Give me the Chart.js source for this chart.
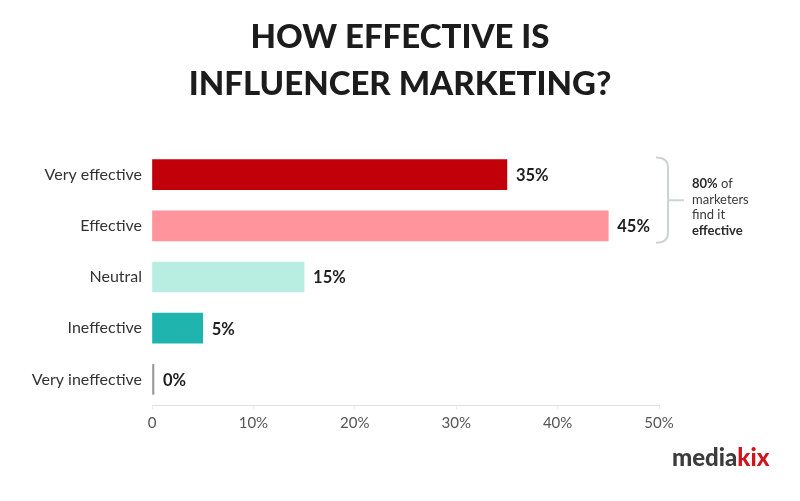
<!DOCTYPE html>
<html>
<head>
<meta charset="utf-8">
<script src="https://cdn.jsdelivr.net/npm/chart.js@4"></script>
<style>
  html, body { margin: 0; padding: 0; background: #ffffff; }
  #wrap { width: 800px; height: 501px; position: relative; }
</style>
</head>
<body>
<div id="wrap"><canvas id="c" width="800" height="501"></canvas></div>
<script>
const categories = ["Very effective", "Effective", "Neutral", "Ineffective", "Very ineffective"];
const values = [35, 45, 15, 5, 0];
const barColors = ["#C10009", "#FF949C", "#B8EEE1", "#20B4AF", "#9a9a9a"];
const tickValues = [0, 10, 20, 30, 40, 50];
const titleLines = ["HOW EFFECTIVE IS", "INFLUENCER MARKETING?"];
const noteLines = [["80%", " of"], ["", "marketers"], ["", "find it"], ["effective", ""]];

const overlay = {
  id: 'overlay',
  afterDatasetsDraw(chart) {
    const ctx = chart.ctx;
    const meta = chart.getDatasetMeta(0);
    ctx.save();
    // value labels
    ctx.font = "bold 16.5px Lato";
    ctx.fillStyle = "#1e1e1e";
    ctx.textBaseline = "middle";
    ctx.textAlign = "left";
    meta.data.forEach((bar, i) => {
      ctx.fillText(values[i] + "%", bar.x + 9, bar.y + 1);
    });
    // title
    ctx.font = "900 33px Lato";
    ctx.fillStyle = "#1c1c1c";
    ctx.textAlign = "center";
    ctx.textBaseline = "alphabetic";
    ctx.fillText(titleLines[0], 400, 48);
    ctx.fillText(titleLines[1], 400, 95);
    // bracket spanning first two bars
    const y1 = meta.data[0].y - 17, y2 = meta.data[1].y + 17;
    const ym = (y1 + y2) / 2;
    const bx = 668;
    ctx.strokeStyle = "#cdd3d3";
    ctx.lineWidth = 2;
    ctx.beginPath();
    ctx.moveTo(656, y1);
    ctx.quadraticCurveTo(bx, y1, bx, y1 + 10);
    ctx.lineTo(bx, y2 - 10);
    ctx.quadraticCurveTo(bx, y2, 656, y2);
    ctx.moveTo(bx, ym);
    ctx.lineTo(684, ym);
    ctx.stroke();
    // note text
    ctx.textAlign = "left";
    ctx.fillStyle = "#2a2a2a";
    noteLines.forEach((ln, i) => {
      const y = 188 + i * 15.5;
      let x = 692;
      if (ln[0]) {
        ctx.font = "bold 13px Lato";
        ctx.fillText(ln[0], x, y);
        x += ctx.measureText(ln[0]).width;
      }
      if (ln[1]) {
        ctx.font = "13px Lato";
        ctx.fillStyle = "#3a3a3a";
        ctx.fillText(ln[1], x, y);
        ctx.fillStyle = "#2a2a2a";
      }
    });
    // logo
    ctx.font = "900 24px Lato";
    ctx.fillStyle = "#3c3c3c";
    ctx.fillText("media", 672, 466);
    const w = ctx.measureText("media").width;
    ctx.fillStyle = "#D0141C";
    ctx.fillText("kix", 672 + w, 466);
    ctx.restore();
  }
};

new Chart(document.getElementById('c'), {
  type: 'bar',
  data: {
    labels: categories,
    datasets: [{
      data: values,
      backgroundColor: barColors,
      borderWidth: 0,
      barThickness: 30,
      minBarLength: 2
    }]
  },
  options: {
    indexAxis: 'y',
    responsive: false,
    animation: false,
    layout: { padding: { top: 149, right: 141, bottom: 56, left: 0 } },
    plugins: { legend: { display: false }, tooltip: { enabled: false } },
    scales: {
      x: {
        min: 0, max: 50,
        afterBuildTicks(scale) { scale.ticks = tickValues.map(v => ({ value: v })); },
        afterFit(scale) { scale.height = 40; },
        border: { display: true, color: "#e2e2e2", width: 1 },
        grid: { drawOnChartArea: false, drawTicks: true, tickLength: 4, color: "#ececec" },
        ticks: {
          padding: 5,
          color: "#555555",
          font: { family: "Lato", size: 15 },
          callback: (v) => v === 0 ? "0" : v + "%"
        }
      },
      y: {
        afterFit(scale) { scale.width = 152; },
        border: { display: false },
        grid: { display: false, drawTicks: false },
        ticks: {
          padding: 10,
          color: "#333333",
          font: { family: "Lato", size: 16 }
        }
      }
    }
  },
  plugins: [overlay]
});
</script>
</body>
</html>
